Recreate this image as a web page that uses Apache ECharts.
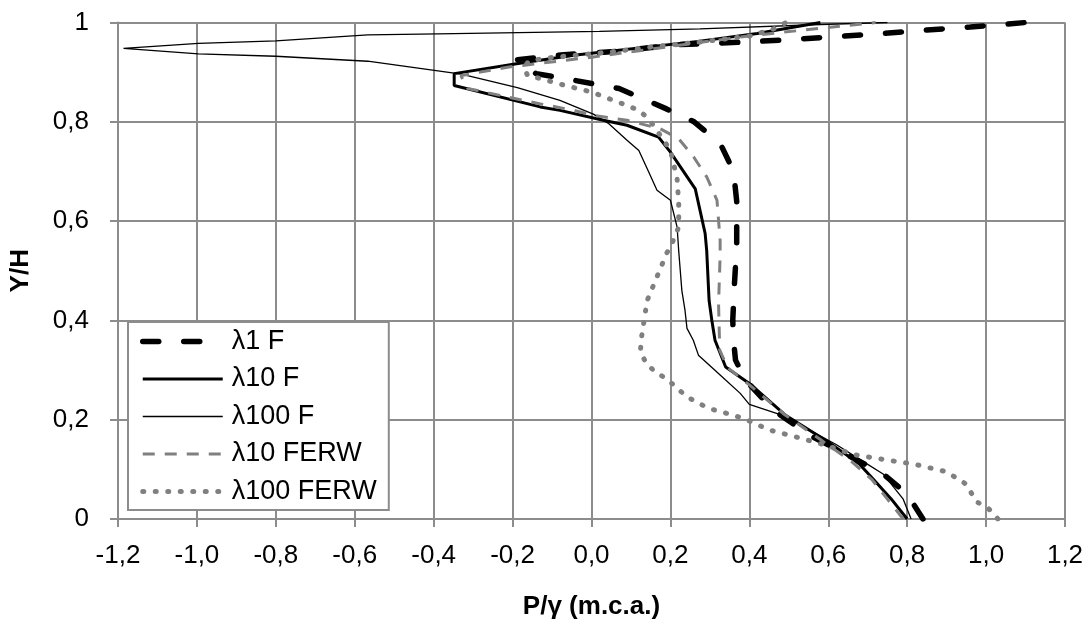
<!DOCTYPE html>
<html>
<head>
<meta charset="utf-8">
<script src="https://cdn.jsdelivr.net/npm/echarts@6/dist/echarts.min.js"></script>
<style>
  html, body { margin: 0; padding: 0; background: #fff; }
  #app { width: 1090px; height: 626px; }
</style>
</head>
<body>
<div id="app"></div>
<script>
// puntos [P/γ, Y/H]
const lambda1F = [[0.84,0],[0.80,0.05],[0.74,0.09],[0.67,0.12],[0.55,0.17],[0.46,0.22],[0.39,0.28],[0.365,0.32],[0.36,0.36],[0.358,0.40],[0.362,0.47],[0.368,0.55],[0.368,0.64],[0.36,0.70],[0.347,0.722],[0.33,0.75],[0.29,0.78],[0.26,0.80],[0.19,0.826],[0.07,0.867],[-0.04,0.883],[-0.14,0.897],[-0.175,0.91],[-0.19,0.925],[-0.07,0.935],[0.07,0.942],[0.21,0.955],[0.40,0.961],[0.51,0.966],[0.63,0.972],[0.74,0.978],[0.85,0.985],[0.96,0.991],[1.1,1.0]];
const lambda10F = [[0.80,0],[0.76,0.04],[0.72,0.075],[0.68,0.11],[0.60,0.155],[0.49,0.21],[0.40,0.273],[0.34,0.306],[0.313,0.36],[0.305,0.40],[0.298,0.44],[0.292,0.54],[0.288,0.575],[0.263,0.665],[0.20,0.739],[0.17,0.769],[0.09,0.793],[0.03,0.803],[-0.08,0.823],[-0.13,0.83],[-0.348,0.873],[-0.348,0.897],[-0.19,0.917],[-0.045,0.934],[0.27,0.962],[0.42,0.978],[0.58,1.0]];
const lambda100F = [[0.81,0],[0.79,0.04],[0.74,0.09],[0.69,0.115],[0.62,0.15],[0.55,0.18],[0.494,0.206],[0.40,0.231],[0.377,0.253],[0.326,0.29],[0.271,0.33],[0.258,0.36],[0.242,0.384],[0.237,0.42],[0.229,0.46],[0.221,0.54],[0.217,0.588],[0.20,0.642],[0.166,0.662],[0.145,0.699],[0.12,0.742],[0.09,0.763],[0.044,0.796],[0.006,0.815],[-0.08,0.843],[-0.188,0.869],[-0.33,0.896],[-0.567,0.922],[-0.80,0.932],[-0.996,0.937],[-1.186,0.948],[-0.996,0.958],[-0.80,0.963],[-0.567,0.975],[-0.39,0.977],[0.02,0.982],[0.275,0.987],[0.58,0.996],[0.75,1.0]];
const lambda10FERW = [[0.79,0],[0.75,0.04],[0.71,0.08],[0.66,0.115],[0.58,0.16],[0.49,0.21],[0.40,0.27],[0.345,0.305],[0.325,0.34],[0.322,0.434],[0.326,0.53],[0.326,0.561],[0.318,0.642],[0.292,0.689],[0.259,0.729],[0.221,0.766],[0.174,0.786],[0.09,0.803],[0.006,0.813],[-0.045,0.823],[-0.129,0.836],[-0.314,0.867],[-0.331,0.893],[-0.213,0.91],[0.0,0.93],[0.275,0.96],[0.42,0.975],[0.65,0.994],[0.72,1.0]];
const lambda100FERW = [[1.03,0],[1.005,0.022],[0.975,0.035],[0.95,0.07],[0.90,0.095],[0.82,0.11],[0.74,0.12],[0.67,0.129],[0.579,0.152],[0.515,0.166],[0.452,0.179],[0.393,0.2],[0.36,0.209],[0.296,0.223],[0.242,0.246],[0.191,0.282],[0.162,0.296],[0.139,0.313],[0.124,0.337],[0.126,0.362],[0.131,0.388],[0.141,0.44],[0.166,0.488],[0.191,0.536],[0.206,0.559],[0.221,0.588],[0.221,0.635],[0.217,0.685],[0.208,0.716],[0.2,0.742],[0.183,0.763],[0.145,0.806],[0.12,0.823],[0.09,0.833],[0.056,0.843],[0.0,0.86],[-0.066,0.873],[-0.129,0.887],[-0.162,0.893],[-0.171,0.91],[-0.158,0.923],[-0.095,0.93],[0.04,0.94],[0.166,0.952],[0.267,0.96],[0.402,0.973],[0.461,0.987],[0.494,1.0]];

const seriesNames = ['λ1 F', 'λ10 F', 'λ100 F', 'λ10 FERW', 'λ100 FERW'];

const gris = '#8c8c8c';
const fuente = 'Liberation Sans, Arial, sans-serif';

// estilos de linea, usados en la serie y en la leyenda
const estilos = [
  { color: '#000', width: 5.5, type: [16, 25], cap: 'round' },
  { color: '#000', width: 3 },
  { color: '#000', width: 1.3 },
  { color: '#808080', width: 3, type: [12, 10] },
  { color: '#808080', width: 5, type: [1, 11.5], cap: 'round' }
];
const datos = [lambda1F, lambda10F, lambda100F, lambda10FERW, lambda100FERW];

function coma(v, dec) {
  if (Math.abs(v) < 1e-9) v = 0;
  return v.toFixed(dec).replace('.', ',');
}

var myChart = echarts.init(document.getElementById('app'));

let option = {
  animation: false,
  backgroundColor: '#fff',
  grid: { left: 116, right: 25, top: 22.5, bottom: 107 },
  legend: {
    orient: 'vertical',
    left: 128,
    top: 322,
    padding: [6, 12, 5, 12],
    itemGap: 10.5,
    itemWidth: 80,
    itemHeight: 14,
    borderColor: gris,
    borderWidth: 2,
    backgroundColor: '#fff',
    itemStyle: { opacity: 0 },
    textStyle: { fontFamily: fuente, fontSize: 27, color: '#000', padding: [0, 0, 0, 4] },
    data: seriesNames.map((n, i) => ({
      name: n,
      itemStyle: { opacity: 0 },
      lineStyle: Object.assign({}, estilos[i])
    }))
  },
  xAxis: {
    type: 'value',
    min: -1.2,
    max: 1.2,
    interval: 0.2,
    name: 'P/γ (m.c.a.)',
    nameLocation: 'middle',
    nameGap: 75,
    nameTextStyle: { fontFamily: fuente, fontSize: 26, fontWeight: 'bold', color: '#000' },
    axisLine: { lineStyle: { color: gris, width: 2 } },
    axisTick: { show: true, length: 8, lineStyle: { color: gris, width: 2 } },
    axisLabel: { fontFamily: fuente, fontSize: 26, color: '#000', margin: 24, formatter: v => coma(v, 1) },
    splitLine: { show: true, lineStyle: { color: gris, width: 2 } }
  },
  yAxis: {
    type: 'value',
    min: 0,
    max: 1,
    interval: 0.2,
    name: 'Y/H',
    nameLocation: 'middle',
    nameGap: 84,
    nameTextStyle: { fontFamily: fuente, fontSize: 26, fontWeight: 'bold', color: '#000' },
    axisLine: { onZero: false, lineStyle: { color: gris, width: 2 } },
    axisTick: { show: true, length: 8, lineStyle: { color: gris, width: 2 } },
    axisLabel: {
      fontFamily: fuente, fontSize: 26, color: '#000', margin: 29,
      formatter: v => (Math.abs(v) < 1e-9 || Math.abs(v - 1) < 1e-9) ? String(Math.round(v)) : coma(v, 1)
    },
    splitLine: { show: true, lineStyle: { color: gris, width: 2 } }
  },
  series: seriesNames.map((n, i) => ({
    name: n,
    type: 'line',
    data: datos[i],
    showSymbol: false,
    symbol: 'none',
    itemStyle: { color: estilos[i].color },
    lineStyle: estilos[i]
  }))
};

myChart.setOption(option);
</script>
</body>
</html>
